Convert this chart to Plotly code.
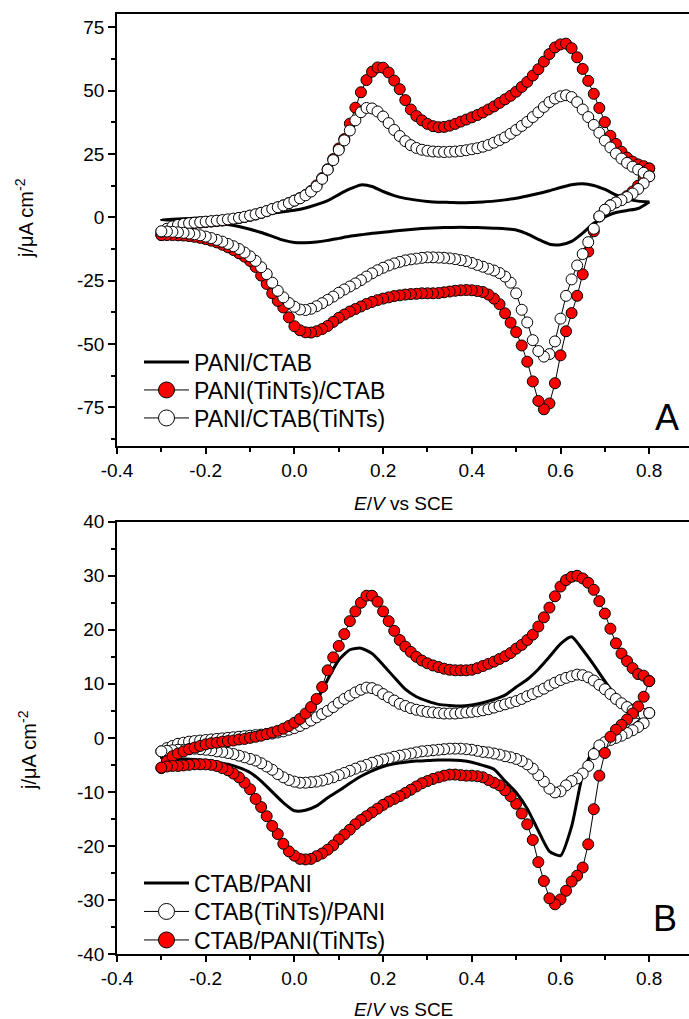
import plotly.graph_objects as go

# ---------------- data ----------------
# potential grid of the marker curves (V vs SCE), forward sweep -0.3 -> 0.8
E_SWEEP = [-0.3, -0.2875, -0.275, -0.2625, -0.25, -0.2375, -0.225, -0.2125, -0.2, -0.1875,
           -0.175, -0.1625, -0.15, -0.1375, -0.125, -0.1125, -0.1, -0.0875, -0.075, -0.0625,
           -0.05, -0.0375, -0.025, -0.0125, 0.0, 0.0125, 0.025, 0.0375, 0.05, 0.0625,
           0.075, 0.0875, 0.1, 0.1125, 0.125, 0.1375, 0.15, 0.1625, 0.175, 0.1875,
           0.2, 0.2125, 0.225, 0.2375, 0.25, 0.2625, 0.275, 0.2875, 0.3, 0.3125,
           0.325, 0.3375, 0.35, 0.3625, 0.375, 0.3875, 0.4, 0.4125, 0.425, 0.4375,
           0.45, 0.4625, 0.475, 0.4875, 0.5, 0.5125, 0.525, 0.5375, 0.55, 0.5625,
           0.575, 0.5875, 0.6, 0.6125, 0.625, 0.6375, 0.65, 0.6625, 0.675, 0.6875,
           0.7, 0.7125, 0.725, 0.7375, 0.75, 0.7625, 0.775, 0.7875, 0.8]
# potential grid of the plain line curves
E_LINE = [-0.3, -0.275, -0.25, -0.225, -0.2, -0.175, -0.15, -0.125, -0.1, -0.075,
          -0.05, -0.025, 0.0, 0.025, 0.05, 0.075, 0.1, 0.125, 0.15, 0.175,
          0.2, 0.225, 0.25, 0.275, 0.3, 0.325, 0.35, 0.375, 0.4, 0.425,
          0.45, 0.475, 0.5, 0.525, 0.55, 0.575, 0.6, 0.625, 0.65, 0.675,
          0.7, 0.725, 0.75, 0.775, 0.8]

# ---- panel A ----
A_PANI_CTAB_FWD = [-1.0, -0.8, -0.6, -0.4, -0.2, 0.1, 0.4, 0.7, 1.0, 1.3,
                   1.7, 2.2, 2.8, 3.7, 5.0, 6.6, 9.0, 11.2, 12.8, 12.2,
                   10.2, 8.6, 7.5, 6.8, 6.3, 6.0, 5.9, 5.8, 5.9, 6.1,
                   6.4, 6.9, 7.5, 8.4, 9.4, 10.5, 11.8, 12.9, 13.3, 12.6,
                   11.0, 8.9, 7.2, 6.4, 6.1]
A_PANI_CTAB_REV = [6.1, 3.5, 2.7, 1.9, 0.2, -2.3, -6.2, -9.5, -10.8, -10.6,
                   -8.7, -6.5, -5.0, -4.5, -4.3, -4.1, -4.0, -3.9, -4.0, -4.1,
                   -4.3, -4.6, -5.0, -5.4, -5.9, -6.3, -6.9, -7.5, -8.3, -9.1,
                   -9.7, -10.0, -9.9, -9.0, -7.5, -6.0, -4.7, -3.6, -2.8, -2.2,
                   -1.8, -1.5, -1.3, -1.1, -1.0]

A_PANITINTS_CTAB_FWD = [-7.0, -5.5, -4.3, -3.5, -3.0, -2.6, -2.3, -2.1, -1.9, -1.7,
                        -1.5, -1.3, -1.0, -0.7, -0.3, 0.1, 0.6, 1.1, 1.7, 2.4,
                        3.2, 3.9, 4.7, 5.6, 6.6, 7.6, 8.8, 10.4, 12.6, 15.5,
                        19.0, 23.0, 27.2, 30.9, 37.0, 43.3, 49.4, 54.2, 57.5, 59.2,
                        59.1, 57.2, 54.0, 50.6, 46.3, 42.6, 40.0, 38.3, 36.9, 36.0,
                        35.6, 35.7, 36.2, 36.9, 37.8, 38.6, 39.5, 40.4, 41.4, 42.6,
                        43.8, 45.2, 46.6, 48.0, 49.6, 51.5, 53.5, 56.0, 58.5, 61.5,
                        64.5, 67.1, 68.3, 68.6, 66.8, 63.2, 58.6, 53.9, 48.8, 43.2,
                        37.6, 32.2, 29.0, 25.9, 23.6, 22.0, 20.9, 20.2, 19.3]
A_PANITINTS_CTAB_REV = [19.3, 15.5, 12.5, 10.2, 8.4, 7.0, 5.9, 4.8, 3.0, 0.3,
                        -5.5, -13.5, -22.5, -31.0, -37.8, -45.0, -54.5, -65.5, -73.5, -75.8,
                        -72.5, -64.8, -57.0, -50.6, -45.3, -41.6, -37.9, -34.3, -32.1, -30.5,
                        -29.5, -29.1, -28.8, -28.7, -28.8, -29.0, -29.3, -29.6, -29.9, -30.0,
                        -30.0, -30.0, -30.2, -30.3, -30.5, -30.8, -31.1, -31.6, -32.1, -32.7,
                        -33.4, -34.2, -35.2, -36.2, -37.2, -38.4, -39.7, -41.3, -42.9, -44.1,
                        -45.0, -45.5, -45.4, -44.6, -43.0, -39.5, -35.6, -33.0, -30.0, -26.3,
                        -23.0, -19.6, -17.2, -15.5, -14.2, -12.9, -11.8, -10.8, -9.9, -9.2,
                        -8.6, -8.1, -7.7, -7.4, -7.2, -7.1, -7.0, -7.0, -7.0]

A_PANI_CTABTINTS_FWD = [-5.7, -4.5, -3.6, -3.0, -2.6, -2.3, -2.1, -1.9, -1.7, -1.5,
                        -1.3, -1.1, -0.8, -0.5, -0.2, 0.2, 0.7, 1.2, 1.8, 2.5,
                        3.3, 4.0, 4.7, 5.6, 6.6, 7.5, 8.7, 10.2, 12.2, 15.2,
                        18.8, 22.6, 26.6, 30.4, 34.3, 38.3, 41.5, 43.2, 43.0, 41.8,
                        39.8, 37.2, 34.5, 32.1, 30.1, 28.5, 27.4, 26.7, 26.3, 26.0,
                        25.9, 25.8, 25.9, 26.0, 26.2, 26.5, 26.9, 27.3, 27.9, 28.6,
                        29.5, 30.5, 31.6, 33.0, 34.5, 36.1, 37.7, 39.6, 41.5, 43.6,
                        45.5, 46.9, 47.8, 48.2, 47.5, 45.5, 42.6, 39.6, 36.5, 33.4,
                        30.3, 27.6, 25.2, 23.2, 21.5, 20.0, 18.8, 17.6, 16.2]
A_PANI_CTABTINTS_REV = [16.2, 13.4, 11.2, 9.4, 8.0, 6.8, 5.9, 4.7, 3.0, 0.4,
                        -4.5, -9.8, -14.5, -19.0, -24.5, -31.0, -40.0, -49.0, -54.0, -55.0,
                        -52.8, -48.5, -41.5, -36.5, -30.0, -25.8, -23.4, -22.0, -21.0, -20.3,
                        -19.5, -18.8, -18.0, -17.3, -16.9, -16.5, -16.2, -16.0, -15.9, -15.8,
                        -15.8, -16.0, -16.3, -16.6, -17.0, -17.6, -18.2, -19.0, -19.9, -20.9,
                        -22.1, -23.4, -24.8, -26.1, -27.3, -28.5, -29.8, -31.3, -32.6, -33.9,
                        -35.1, -36.1, -36.6, -36.4, -35.3, -33.8, -31.6, -29.0, -25.8, -22.4,
                        -19.7, -17.2, -15.4, -13.9, -12.5, -11.4, -10.5, -9.6, -8.9, -8.2,
                        -7.6, -7.1, -6.7, -6.4, -6.1, -5.9, -5.7, -5.6, -5.5]

# ---- panel B ----
B_CTAB_PANI_FWD = [-3.7, -2.3, -1.6, -1.2, -0.9, -0.6, -0.4, -0.2, 0.0, 0.3,
                   0.7, 1.3, 2.2, 3.8, 6.8, 10.8, 14.4, 16.3, 16.6, 15.6,
                   13.5, 11.2, 9.0, 7.6, 6.8, 6.2, 6.0, 5.9, 6.1, 6.5,
                   7.1, 7.9, 9.4, 10.8, 12.7, 15.0, 17.4, 18.7, 16.3, 13.5,
                   10.5, 7.8, 6.5, 5.6, 5.0]
B_CTAB_PANI_REV = [5.0, 3.0, 1.6, 0.6, -0.5, -2.0, -6.8, -16.4, -21.8, -21.0,
                   -17.2, -13.1, -10.1, -8.0, -5.8, -5.1, -4.5, -4.2, -4.1, -4.1,
                   -4.2, -4.3, -4.5, -4.8, -5.3, -6.1, -7.1, -8.4, -9.8, -11.1,
                   -12.6, -13.4, -13.5, -12.0, -10.0, -8.0, -6.4, -5.5, -4.9, -4.5,
                   -4.2, -4.0, -3.9, -3.8, -3.7]

B_CTABTINTS_PANI_FWD = [-2.5, -1.9, -1.5, -1.1, -0.9, -0.7, -0.6, -0.5, -0.4, -0.3,
                        -0.2, -0.1, 0.0, 0.1, 0.2, 0.3, 0.4, 0.5, 0.6, 0.7,
                        0.8, 1.0, 1.2, 1.5, 1.8, 2.2, 2.7, 3.2, 3.8, 4.4,
                        5.0, 5.7, 6.5, 7.2, 7.8, 8.4, 8.9, 9.3, 9.2, 8.8,
                        8.1, 7.5, 6.9, 6.3, 5.9, 5.5, 5.2, 5.0, 4.8, 4.7,
                        4.6, 4.5, 4.5, 4.5, 4.6, 4.7, 4.8, 4.9, 5.1, 5.3,
                        5.6, 5.9, 6.2, 6.5, 6.8, 7.2, 7.7, 8.1, 8.6, 9.1,
                        9.7, 10.2, 10.7, 11.1, 11.4, 11.7, 11.6, 11.2, 10.6, 9.8,
                        9.0, 8.1, 7.2, 6.4, 5.7, 5.1, 4.6, 4.4, 4.6]
B_CTABTINTS_PANI_REV = [4.6, 2.7, 2.0, 1.4, 0.9, 0.4, 0.0, -0.4, -0.8, -1.4,
                        -3.0, -5.2, -6.6, -7.5, -8.0, -8.8, -9.9, -10.1, -9.4, -8.1,
                        -6.9, -5.7, -4.9, -4.3, -3.9, -3.6, -3.4, -3.1, -2.9, -2.7,
                        -2.6, -2.4, -2.2, -2.1, -2.0, -2.0, -2.0, -2.1, -2.2, -2.3,
                        -2.4, -2.5, -2.7, -2.9, -3.1, -3.3, -3.5, -3.8, -4.0, -4.3,
                        -4.6, -5.0, -5.3, -5.7, -6.1, -6.5, -6.9, -7.3, -7.6, -7.9,
                        -8.1, -8.2, -8.3, -8.3, -8.1, -7.8, -7.3, -6.7, -5.9, -5.3,
                        -4.7, -4.2, -3.9, -3.6, -3.3, -3.0, -2.8, -2.6, -2.5, -2.3,
                        -2.2, -2.1, -2.0, -2.1, -2.2, -2.2, -2.3, -2.4, -2.5]

B_CTAB_PANITINTS_FWD = [-5.6, -4.3, -3.4, -2.9, -2.5, -2.1, -1.8, -1.5, -1.2, -1.0,
                        -0.9, -0.7, -0.6, -0.5, -0.3, -0.2, 0.0, 0.2, 0.4, 0.7,
                        1.0, 1.3, 1.7, 2.2, 2.8, 3.5, 4.5, 5.7, 7.2, 9.4,
                        12.5, 14.9, 17.0, 19.2, 21.6, 23.4, 25.0, 26.3, 26.3, 25.2,
                        23.4, 21.6, 19.8, 18.1, 16.9, 15.9, 15.0, 14.3, 13.8, 13.4,
                        13.1, 12.8, 12.6, 12.5, 12.5, 12.5, 12.6, 12.9, 13.3, 13.7,
                        14.1, 14.6, 15.1, 15.7, 16.5, 17.2, 18.1, 19.1, 20.6, 22.3,
                        24.1, 26.2, 28.0, 29.2, 29.8, 30.0, 29.5, 28.7, 27.4, 25.3,
                        23.0, 20.2, 17.5, 15.6, 14.2, 12.9, 11.8, 11.5, 10.5]
B_CTAB_PANITINTS_REV = [10.5, 7.6, 5.8, 4.5, 3.4, 2.4, 1.5, 0.2, -2.8, -7.0,
                        -13.2, -19.7, -24.0, -25.5, -26.6, -28.3, -29.9, -30.8, -29.7, -26.5,
                        -23.0, -18.9, -16.0, -14.0, -12.2, -10.8, -9.7, -8.8, -8.3, -7.8,
                        -7.3, -7.1, -7.0, -7.0, -6.9, -6.8, -6.8, -7.0, -7.3, -7.6,
                        -8.0, -8.4, -9.0, -9.6, -10.2, -10.8, -11.3, -11.8, -12.4, -13.1,
                        -13.8, -14.5, -15.2, -16.0, -17.0, -17.9, -18.8, -19.9, -20.7, -21.4,
                        -21.9, -22.4, -22.5, -22.4, -21.8, -21.0, -19.6, -17.8, -16.3, -14.5,
                        -12.8, -11.3, -9.5, -8.3, -7.3, -6.6, -6.0, -5.6, -5.2, -5.0,
                        -4.9, -4.9, -4.9, -5.0, -5.1, -5.2, -5.2, -5.3, -5.5]

# tick labels
X_TICKS = [-0.4, -0.2, 0.0, 0.2, 0.4, 0.6, 0.8]
X_TICKTEXT = ["-0.4", "-0.2", "0.0", "0.2", "0.4", "0.6", "0.8"]
X_MINOR = [-0.3, -0.1, 0.1, 0.3, 0.5, 0.7]
YA_TICKS = [-75, -50, -25, 0, 25, 50, 75]
YA_TICKTEXT = ["-75", "-50", "-25", "0", "25", "50", "75"]
YA_MINOR = [-87.5, -62.5, -37.5, -12.5, 12.5, 37.5, 62.5]
YB_TICKS = [-40, -30, -20, -10, 0, 10, 20, 30, 40]
YB_TICKTEXT = ["-40", "-30", "-20", "-10", "0", "10", "20", "30", "40"]
YB_MINOR = [-35, -25, -15, -5, 5, 15, 25, 35]

for arr in (A_PANITINTS_CTAB_FWD, A_PANITINTS_CTAB_REV, A_PANI_CTABTINTS_FWD, A_PANI_CTABTINTS_REV,
            B_CTABTINTS_PANI_FWD, B_CTABTINTS_PANI_REV, B_CTAB_PANITINTS_FWD, B_CTAB_PANITINTS_REV):
    assert len(arr) == len(E_SWEEP), len(arr)
for arr in (A_PANI_CTAB_FWD, A_PANI_CTAB_REV, B_CTAB_PANI_FWD, B_CTAB_PANI_REV):
    assert len(arr) == len(E_LINE), len(arr)

# ---------------- figure ----------------
FONT = "Liberation Sans, Arial, Helvetica, sans-serif"
fig = go.Figure()

E_CYCLE = E_SWEEP + E_SWEEP[::-1]
E_LCYCLE = E_LINE + E_LINE[::-1]


def add_line(fwd, rev, name, xa, ya, lg):
    fig.add_trace(go.Scatter(x=E_LCYCLE, y=fwd + rev, mode="lines", name=name,
                             line=dict(color="black", width=3, shape="spline", smoothing=0.6),
                             xaxis=xa, yaxis=ya, legend=lg, showlegend=True))


def add_markers(fwd, rev, name, color, xa, ya, lg):
    fig.add_trace(go.Scatter(x=E_CYCLE, y=fwd + rev, mode="lines+markers", name=name,
                             line=dict(color="black", width=1),
                             marker=dict(size=11, color=color, line=dict(color="black", width=1)),
                             xaxis=xa, yaxis=ya, showlegend=False))
    # legend entry (bigger symbol, like the original)
    fig.add_trace(go.Scatter(x=[None], y=[None], mode="lines+markers", name=name,
                             line=dict(color="black", width=1),
                             marker=dict(size=16, color=color, line=dict(color="black", width=1)),
                             xaxis=xa, yaxis=ya, legend=lg, showlegend=True))


# panel A (drawing order = legend order)
add_line(A_PANI_CTAB_FWD, A_PANI_CTAB_REV, "PANI/CTAB", "x", "y", "legend")
add_markers(A_PANITINTS_CTAB_FWD, A_PANITINTS_CTAB_REV, "PANI(TiNTs)/CTAB", "#FF0000", "x", "y", "legend2")
add_markers(A_PANI_CTABTINTS_FWD, A_PANI_CTABTINTS_REV, "PANI/CTAB(TiNTs)", "#FFFFFF", "x", "y", "legend3")
# panel B
add_line(B_CTAB_PANI_FWD, B_CTAB_PANI_REV, "CTAB/PANI", "x2", "y2", "legend4")
add_markers(B_CTABTINTS_PANI_FWD, B_CTABTINTS_PANI_REV, "CTAB(TiNTs)/PANI", "#FFFFFF", "x2", "y2", "legend5")
add_markers(B_CTAB_PANITINTS_FWD, B_CTAB_PANITINTS_REV, "CTAB/PANI(TiNTs)", "#FF0000", "x2", "y2", "legend6")

axis_common = dict(showline=True, linecolor="black", linewidth=1.5, showgrid=False, zeroline=False,
                   ticks="outside", ticklen=6, tickwidth=1.5, tickcolor="black",
                   tickfont=dict(family=FONT, size=19, color="black"))

X_RANGE = [-0.4, 0.8897]


def xaxis(anchor):
    return dict(axis_common, anchor=anchor, domain=[0, 1], range=X_RANGE, mirror=True,
                tickmode="array", tickvals=X_TICKS, ticktext=X_TICKTEXT,
                minor=dict(ticks="outside", ticklen=4, tickwidth=1.5, tickcolor="black",
                           tickmode="array", tickvals=X_MINOR))


def yaxis(anchor, dom, rng, tv, tt, mv):
    return dict(axis_common, anchor=anchor, domain=dom, range=rng, ticklen=7,
                tickmode="array", tickvals=tv, ticktext=tt,
                minor=dict(ticks="outside", ticklen=4, tickwidth=1.5, tickcolor="black",
                           tickmode="array", tickvals=mv))


PLOT_H = 940.0


def fy(py):  # pixel row -> paper fraction
    return (954 - py) / PLOT_H


def fx(px):
    return (px - 117) / 572.0


def legend_at(py):
    return dict(x=fx(139), y=fy(py), xanchor="left", yanchor="middle", bgcolor="rgba(0,0,0,0)",
                borderwidth=0, font=dict(family=FONT, size=23, color="black"),
                tracegroupgap=0, itemsizing="trace", itemwidth=45)


fig.update_layout(
    width=689, height=1019,
    margin=dict(l=117, r=0, t=14, b=65, pad=0),
    paper_bgcolor="white", plot_bgcolor="white",
    font=dict(family=FONT, size=19, color="black"),
    xaxis=xaxis("y"),
    yaxis=yaxis("x", [fy(446), 1.0], [-90.3, 80.3], YA_TICKS, YA_TICKTEXT, YA_MINOR),
    xaxis2=xaxis("y2"),
    yaxis2=yaxis("x2", [0.0, fy(521.7)], [-40, 40], YB_TICKS, YB_TICKTEXT, YB_MINOR),
    legend=legend_at(362),
    legend2=legend_at(390),
    legend3=legend_at(418),
    legend4=legend_at(883),
    legend5=legend_at(911.5),
    legend6=legend_at(940),
    showlegend=True,
)

ann = []
# y titles
ann.append(dict(text="j/μA cm<sup>-2</sup>", x=fx(25), y=fy(218), xref="paper", yref="paper",
                xanchor="center", yanchor="middle",
                textangle=-90, showarrow=False, font=dict(family=FONT, size=20)))
ann.append(dict(text="j/μA cm<sup>-2</sup>", x=fx(27), y=fy(750), xref="paper", yref="paper",
                xanchor="center", yanchor="middle",
                textangle=-90, showarrow=False, font=dict(family=FONT, size=20)))
# x titles
ann.append(dict(text="<i>E</i>/<i>V</i> vs SCE", x=0.5, y=fy(503), xref="paper", yref="paper",
                xanchor="center", yanchor="middle", showarrow=False, font=dict(family=FONT, size=19)))
ann.append(dict(text="<i>E</i>/<i>V</i> vs SCE", x=0.5, y=fy(1009), xref="paper", yref="paper",
                xanchor="center", yanchor="middle", showarrow=False, font=dict(family=FONT, size=19)))
# panel letters
ann.append(dict(text="A", x=fx(667), y=fy(417), xref="paper", yref="paper",
                xanchor="center", yanchor="middle", showarrow=False, font=dict(family=FONT, size=36)))
ann.append(dict(text="B", x=fx(665), y=fy(918), xref="paper", yref="paper",
                xanchor="center", yanchor="middle", showarrow=False, font=dict(family=FONT, size=36)))
fig.update_layout(annotations=ann)

fig.write_html("out.html", config={"displayModeBar": False},
               post_script="document.body.style.margin='0px';")
